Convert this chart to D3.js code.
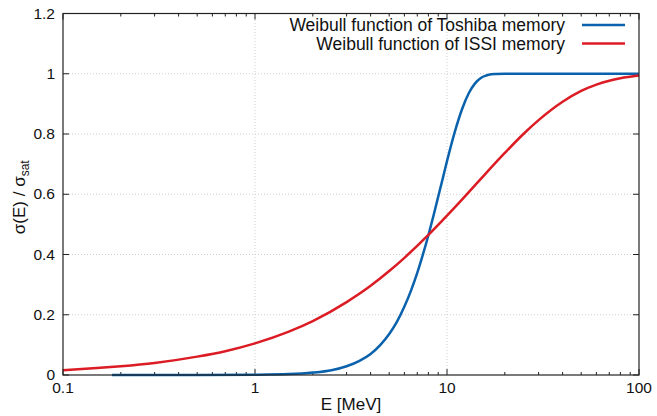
<!DOCTYPE html>
<html lang="en">
<head>
<meta charset="utf-8">
<title>Weibull functions</title>
<script src="https://cdn.jsdelivr.net/npm/d3@7"></script>
<style>
  body { margin: 0; background: #fff; }
  svg { display: block; font-family: "Liberation Sans", Arial, Helvetica, sans-serif; }
</style>
</head>
<body>
<script>
// energies [MeV] and cross-section ratios
var toshibaE = [0.18, 0.5, 1, 1.5, 2, 2.5, 3, 3.5, 4, 4.5, 5, 5.5, 6, 6.5, 7, 7.5, 8, 8.5, 9, 9.5, 10, 11, 12, 13, 14, 15, 16, 17, 18, 20, 30, 50, 100];
var toshibaY = [0, 0, 0.001, 0.003, 0.008, 0.016, 0.029, 0.047, 0.070, 0.100, 0.136, 0.178, 0.227, 0.281, 0.339, 0.401, 0.464, 0.528, 0.592, 0.652, 0.710, 0.809, 0.884, 0.936, 0.968, 0.986, 0.994, 0.998, 0.999, 1, 1, 1, 1];

var issiE = [0.1, 0.15, 0.2, 0.3, 0.5, 0.7, 1, 1.5, 2, 3, 4, 5, 6, 8, 10, 12, 15, 20, 25, 30, 40, 50, 60, 70, 80, 100];
var issiY = [0.016, 0.023, 0.029, 0.040, 0.061, 0.079, 0.105, 0.144, 0.179, 0.242, 0.296, 0.345, 0.389, 0.465, 0.529, 0.583, 0.651, 0.737, 0.800, 0.846, 0.907, 0.943, 0.964, 0.977, 0.985, 0.994];

var xTicks = [0.1, 1, 10, 100];
var yTicks = [0, 0.2, 0.4, 0.6, 0.8, 1, 1.2];
var seriesNames = ["Weibull function of Toshiba memory", "Weibull function of ISSI memory"];
var seriesColors = ["#0a62ad", "#dc1c24"];

var w = 657, h = 416;
var margin = {left: 63, right: 18, top: 13.5, bottom: 41};

var svg = d3.select("body").append("svg").attr("width", w).attr("height", h);

var x = d3.scaleLog().domain([0.1, 100]).range([margin.left, w - margin.right]);
var y = d3.scaleLinear().domain([0, 1.2]).range([h - margin.bottom, margin.top]);

var x0 = x.range()[0], x1 = x.range()[1], y0 = y.range()[0], y1 = y.range()[1];

// grid
var grid = svg.append("g").attr("stroke", "#cfcfcf").attr("stroke-width", 1).attr("stroke-dasharray", "1,2");
grid.selectAll(".gx").data([1, 10]).enter().append("line")
  .attr("x1", d => x(d)).attr("x2", d => x(d)).attr("y1", y0).attr("y2", y1);
grid.selectAll(".gy").data([0.2, 0.4, 0.6, 0.8, 1]).enter().append("line")
  .attr("x1", x0).attr("x2", x1).attr("y1", d => y(d)).attr("y2", d => y(d));

// ticks (inward, mirrored)
var minor = [];
[0.1, 1, 10].forEach(function(dec) { for (var k = 2; k <= 9; k++) minor.push(dec * k); });
var tk = svg.append("g").attr("stroke", "#222").attr("stroke-width", 1);
xTicks.forEach(function(d) {
  tk.append("line").attr("x1", x(d)).attr("x2", x(d)).attr("y1", y0).attr("y2", y0 - 6);
  tk.append("line").attr("x1", x(d)).attr("x2", x(d)).attr("y1", y1).attr("y2", y1 + 6);
});
minor.forEach(function(d) {
  tk.append("line").attr("x1", x(d)).attr("x2", x(d)).attr("y1", y0).attr("y2", y0 - 3);
  tk.append("line").attr("x1", x(d)).attr("x2", x(d)).attr("y1", y1).attr("y2", y1 + 3);
});
yTicks.forEach(function(d) {
  tk.append("line").attr("x1", x0).attr("x2", x0 + 6).attr("y1", y(d)).attr("y2", y(d));
  tk.append("line").attr("x1", x1).attr("x2", x1 - 6).attr("y1", y(d)).attr("y2", y(d));
});

// tick labels
svg.append("g").selectAll("text").data(xTicks).enter().append("text")
  .attr("x", d => x(d)).attr("y", y0 + 17.5).attr("text-anchor", "middle")
  .attr("font-size", 15.5).attr("fill", "#111").text(d => d);
svg.append("g").selectAll("text").data(yTicks).enter().append("text")
  .attr("x", x0 - 8).attr("y", d => y(d) + 5).attr("text-anchor", "end")
  .attr("font-size", 15.5).attr("fill", "#111").text(d => d);

// curves
var line = d3.line().x(d => x(d[0])).y(d => y(d[1])).curve(d3.curveMonotoneX);
var series = [d3.zip(toshibaE, toshibaY), d3.zip(issiE, issiY)];
svg.append("g").selectAll("path").data(series).enter().append("path")
  .attr("d", line).attr("fill", "none")
  .attr("stroke", (d, i) => seriesColors[i]).attr("stroke-width", 2.5);

// frame
svg.append("rect").attr("x", x0).attr("y", y1).attr("width", x1 - x0).attr("height", y0 - y1)
  .attr("fill", "none").attr("stroke", "#222").attr("stroke-width", 1.2);

// legend
var lg = svg.append("g");
seriesNames.forEach(function(name, i) {
  var ly = 25 + i * 18.5;
  lg.append("text").attr("x", 565).attr("y", ly + 6).attr("text-anchor", "end")
    .attr("font-size", 17.5).attr("fill", "#111").text(name);
  lg.append("line").attr("x1", 582).attr("x2", 625).attr("y1", ly).attr("y2", ly)
    .attr("stroke", seriesColors[i]).attr("stroke-width", 2.5);
});

// axis titles
svg.append("text").attr("x", (x0 + x1) / 2).attr("y", 410).attr("text-anchor", "middle")
  .attr("font-size", 17).attr("fill", "#111").text("E [MeV]");

var yl = svg.append("text").attr("transform", "translate(25," + ((y0 + y1) / 2 + 3) + ") rotate(-90)")
  .attr("text-anchor", "middle").attr("font-size", 17).attr("fill", "#111");
yl.append("tspan").text("σ(E) / σ");
yl.append("tspan").attr("font-size", 12).attr("dy", 4).text("sat");
</script>
</body>
</html>
